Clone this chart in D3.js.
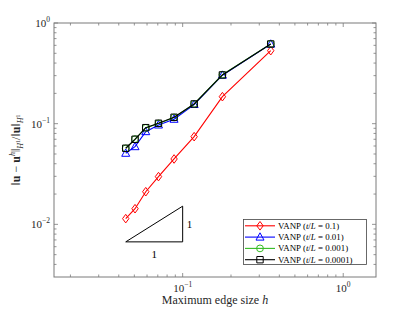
<!DOCTYPE html>
<html>
<head>
<meta charset="utf-8">
<script src="https://cdn.jsdelivr.net/npm/d3@7"></script>
<style>
  body { margin: 0; background: #fff; }
  text { font-family: "Liberation Serif", "DejaVu Serif", serif; fill: #262626; }
</style>
</head>
<body>
<svg id="chart" width="415" height="312"></svg>
<script>
// mesh sizes (maximum edge size h)
const hValues = [0.0442, 0.0505, 0.0589, 0.0707, 0.0884, 0.1179, 0.1768, 0.3536];

// relative H1 errors, one list per t/L
const err01 = [0.0114, 0.0143, 0.0211, 0.0298, 0.0446, 0.0743, 0.1854, 0.531];
const err001 = [0.0508, 0.0591, 0.0833, 0.097, 0.1106, 0.155, 0.303, 0.617];
const err0001 = [0.0568, 0.0702, 0.0908, 0.1005, 0.1152, 0.157, 0.306, 0.62];
const err00001 = [0.057, 0.070, 0.0913, 0.101, 0.1158, 0.157, 0.305, 0.619];

const seriesNames = ['VANP (t/L = 0.1)', 'VANP (t/L = 0.01)', 'VANP (t/L = 0.001)', 'VANP (t/L = 0.0001)'];
const seriesRatios = ['0.1', '0.01', '0.001', '0.0001'];
const seriesColors = ['#ff0000', '#0000ff', '#33bb22', '#000000'];
const seriesMarkers = ['diamond', 'triangle', 'circle', 'square'];

const xTickValues = [0.1, 1];
const xTickExps = ['\u22121', '0'];
const yTickValues = [1, 0.1, 0.01];
const yTickExps = ['0', '\u22121', '\u22122'];

// slope triangle corners (data coords)
const triX = [0.0442, 0.1];
const triY = [0.0067, 0.01516];

const svg = d3.select('#chart');
const pLeft = 54, pTop = 23, pRight = 376, pBottom = 277;

const x = d3.scaleLog().domain([0.0158, 1.6]).range([pLeft, pRight]);
const y = d3.scaleLog().domain([0.003, 1]).range([pBottom, pTop]);

const axisColor = '#7a7a7a';

// minor ticks
function minorTicks(domain) {
  const out = [];
  for (let e = -3; e <= 0; e++) {
    for (let k = 2; k <= 9; k++) {
      const v = k * Math.pow(10, e);
      if (v > domain[0] * 1.001 && v < domain[1] * 0.999) out.push(v);
    }
  }
  return out;
}

const ticks = svg.append('g').attr('stroke', axisColor).attr('stroke-width', 0.8);
minorTicks(x.domain()).forEach(v => {
  const px = x(v);
  ticks.append('line').attr('x1', px).attr('x2', px).attr('y1', pBottom).attr('y2', pBottom - 2.5);
  ticks.append('line').attr('x1', px).attr('x2', px).attr('y1', pTop).attr('y2', pTop + 2.5);
});
xTickValues.forEach(v => {
  const px = x(v);
  ticks.append('line').attr('x1', px).attr('x2', px).attr('y1', pBottom).attr('y2', pBottom - 4);
  ticks.append('line').attr('x1', px).attr('x2', px).attr('y1', pTop).attr('y2', pTop + 4);
});
minorTicks(y.domain()).forEach(v => {
  const py = y(v);
  ticks.append('line').attr('x1', pLeft).attr('x2', pLeft + 2.5).attr('y1', py).attr('y2', py);
  ticks.append('line').attr('x1', pRight).attr('x2', pRight - 2.5).attr('y1', py).attr('y2', py);
});
yTickValues.forEach(v => {
  const py = y(v);
  ticks.append('line').attr('x1', pLeft).attr('x2', pLeft + 4).attr('y1', py).attr('y2', py);
  ticks.append('line').attr('x1', pRight).attr('x2', pRight - 4).attr('y1', py).attr('y2', py);
});

// box
svg.append('rect')
  .attr('x', pLeft).attr('y', pTop)
  .attr('width', pRight - pLeft).attr('height', pBottom - pTop)
  .attr('fill', 'none').attr('stroke', axisColor).attr('stroke-width', 1);

// tick labels
xTickValues.forEach((v, i) => {
  const t = svg.append('text')
    .attr('x', x(v)).attr('y', pBottom + 15)
    .attr('text-anchor', 'middle')
    .attr('font-size', 11);
  t.append('tspan').text('10');
  t.append('tspan').attr('dy', -5).attr('font-size', 7.5).text(xTickExps[i]);
});
yTickValues.forEach((v, i) => {
  const t = svg.append('text')
    .attr('x', pLeft - 4).attr('y', y(v) + 4)
    .attr('text-anchor', 'end')
    .attr('font-size', 11);
  t.append('tspan').text('10');
  t.append('tspan').attr('dy', -5).attr('font-size', 7.5).text(yTickExps[i]);
});

// axis labels
const xl = svg.append('text')
  .attr('x', (pLeft + pRight) / 2).attr('y', 304)
  .attr('text-anchor', 'middle')
  .attr('font-size', 12);
xl.append('tspan').text('Maximum edge size ');
xl.append('tspan').attr('font-style', 'italic').text('h');

const yl = svg.append('text')
  .attr('transform', `translate(20,${(pTop + pBottom) / 2}) rotate(-90)`)
  .attr('text-anchor', 'middle')
  .attr('font-size', 12);
yl.append('tspan').text('\u2016');
yl.append('tspan').attr('font-weight', 'bold').text('u');
yl.append('tspan').text(' \u2212 ');
yl.append('tspan').attr('font-weight', 'bold').text('u');
yl.append('tspan').attr('dy', -5).attr('font-size', 8).attr('font-style', 'italic').text('h');
yl.append('tspan').attr('dy', 5).text('\u2016');
yl.append('tspan').attr('dy', 3).attr('font-size', 8).attr('font-style', 'italic').text('H');
yl.append('tspan').attr('dy', -3).attr('font-size', 6).text('1');
yl.append('tspan').attr('dy', 0).text('/\u2016');
yl.append('tspan').attr('font-weight', 'bold').text('u');
yl.append('tspan').text('\u2016');
yl.append('tspan').attr('dy', 3).attr('font-size', 8).attr('font-style', 'italic').text('H');
yl.append('tspan').attr('dy', -3).attr('font-size', 6).text('1');

// marker shapes
const markerTypes = {
  diamond: { draw(ctx) { ctx.moveTo(0, -4.3); ctx.lineTo(3.2, 0); ctx.lineTo(0, 4.3); ctx.lineTo(-3.2, 0); ctx.closePath(); } },
  triangle: { draw(ctx) { ctx.moveTo(0, -4.3); ctx.lineTo(4, 3); ctx.lineTo(-4, 3); ctx.closePath(); } },
  circle: { draw(ctx) { ctx.moveTo(3.4, 0); ctx.arc(0, 0, 3.4, 0, 2 * Math.PI); } },
  square: { draw(ctx) { ctx.rect(-3.2, -3.2, 6.4, 6.4); } }
};

const allErrors = [err01, err001, err0001, err00001];
const line = d3.line().x(d => x(d[0])).y(d => y(d[1]));

allErrors.forEach((errs, i) => {
  const pts = hValues.map((h, j) => [h, errs[j]]);
  const g = svg.append('g').attr('class', 'series');
  g.append('path')
    .attr('d', line(pts))
    .attr('fill', 'none')
    .attr('stroke', seriesColors[i])
    .attr('stroke-width', 1.1);
  g.selectAll('path.mark')
    .data(pts)
    .enter()
    .append('path')
    .attr('class', 'mark')
    .attr('transform', d => `translate(${x(d[0])},${y(d[1])})`)
    .attr('d', d3.symbol().type(markerTypes[seriesMarkers[i]]))
    .attr('fill', 'none')
    .attr('stroke', seriesColors[i])
    .attr('stroke-width', 1);
});

// slope triangle
const triPath = d3.path();
triPath.moveTo(x(triX[0]), y(triY[0]));
triPath.lineTo(x(triX[1]), y(triY[0]));
triPath.lineTo(x(triX[1]), y(triY[1]));
triPath.closePath();
svg.append('path').attr('d', triPath.toString())
  .attr('fill', 'none').attr('stroke', '#000').attr('stroke-width', 1);
svg.append('text')
  .attr('x', x(triX[1]) + 4).attr('y', (y(triY[0]) + y(triY[1])) / 2 + 4)
  .attr('font-size', 11).style('fill', '#000').text('1');
svg.append('text')
  .attr('x', (x(triX[0]) + x(triX[1])) / 2).attr('y', y(triY[0]) + 16)
  .attr('text-anchor', 'middle')
  .attr('font-size', 11).style('fill', '#000').text('1');

// legend
const legend = svg.append('g');
legend.append('rect')
  .attr('x', 243.5).attr('y', 219.5)
  .attr('width', 123).attr('height', 45)
  .attr('fill', '#fff').attr('stroke', '#444').attr('stroke-width', 0.8);

seriesNames.forEach((name, i) => {
  const ly = 225.8 + i * 11.3;
  legend.append('line')
    .attr('x1', 245).attr('x2', 275).attr('y1', ly).attr('y2', ly)
    .attr('stroke', seriesColors[i]).attr('stroke-width', 1.1);
  legend.append('path')
    .attr('transform', `translate(260,${ly})`)
    .attr('d', d3.symbol().type(markerTypes[seriesMarkers[i]]))
    .attr('fill', 'none').attr('stroke', seriesColors[i]).attr('stroke-width', 1);
  const t = legend.append('text')
    .attr('x', 278).attr('y', ly + 3)
    .attr('font-size', 8.9).style('fill', '#000');
  t.append('tspan').text('VANP (');
  t.append('tspan').attr('font-style', 'italic').text('t');
  t.append('tspan').text('/');
  t.append('tspan').attr('font-style', 'italic').text('L');
  t.append('tspan').text(' = ' + seriesRatios[i] + ')');
});
</script>
</body>
</html>
